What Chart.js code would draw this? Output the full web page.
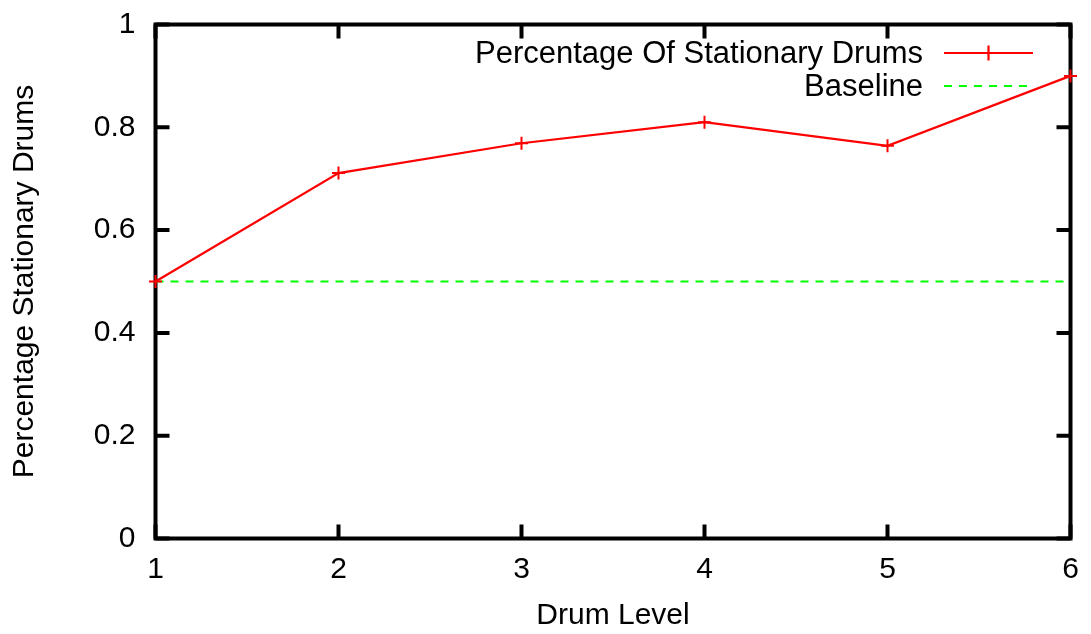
<!DOCTYPE html>
<html>
<head>
<meta charset="utf-8">
<script src="https://cdn.jsdelivr.net/npm/chart.js@4/dist/chart.umd.min.js"></script>
<style>
  html, body { margin: 0; padding: 0; background: #ffffff; }
  #wrap { width: 1091px; height: 634px; position: relative; }
</style>
</head>
<body>
<div id="wrap"><canvas id="c" width="1091" height="634"></canvas></div>
<script>
// Drum levels and the share of drums that stayed stationary at each level
const drumLevels = [1, 2, 3, 4, 5, 6];
const stationaryShare = [0.50, 0.711, 0.769, 0.810, 0.764, 0.900];
// Chance level drawn as a flat reference line across all levels
const baselineLevels = [1, 6];
const baselineValues = [0.5, 0.5];
const yTickValues = [0, 0.2, 0.4, 0.6, 0.8, 1];

const seriesLabel = 'Percentage Of Stationary Drums';
const baselineLabel = 'Baseline';

const FONT = '"Liberation Sans", Arial, Helvetica, sans-serif';
const FONT_SIZE = 30;

// Gnuplot-style border box with inward ticks on all four sides
const frameAndTicks = {
  id: 'frameAndTicks',
  beforeDatasetsDraw(chart) {
    const { ctx, chartArea: a, scales } = chart;
    const tick = 14;
    ctx.save();
    ctx.strokeStyle = '#000000';
    ctx.lineWidth = 4;
    ctx.lineCap = 'butt';
    ctx.beginPath();
    drumLevels.forEach(v => {
      const x = scales.x.getPixelForValue(v);
      ctx.moveTo(x, a.bottom); ctx.lineTo(x, a.bottom - tick);
      ctx.moveTo(x, a.top); ctx.lineTo(x, a.top + tick);
    });
    yTickValues.forEach(v => {
      const y = scales.y.getPixelForValue(v);
      ctx.moveTo(a.left, y); ctx.lineTo(a.left + tick, y);
      ctx.moveTo(a.right, y); ctx.lineTo(a.right - tick, y);
    });
    ctx.stroke();
    ctx.lineJoin = 'miter';
    ctx.strokeRect(a.left, a.top, a.right - a.left, a.bottom - a.top);
    ctx.restore();
  }
};

// Key in the upper right: label text, then a sample of the line style
const keyInside = {
  id: 'keyInside',
  afterDatasetsDraw(chart) {
    const { ctx } = chart;
    const textRight = 923, sampleL = 944, sampleR = 1033;
    const rows = [53, 86];
    ctx.save();
    ctx.font = '31px ' + FONT;
    ctx.textAlign = 'right';
    ctx.textBaseline = 'middle';
    chart.data.datasets.forEach((ds, i) => {
      const y = rows[i];
      ctx.fillStyle = '#000000';
      ctx.fillText(ds.label, textRight, y + 1);
      ctx.strokeStyle = ds.borderColor;
      ctx.lineWidth = ds.borderWidth;
      ctx.setLineDash(ds.borderDash || []);
      ctx.beginPath();
      ctx.moveTo(sampleL, y); ctx.lineTo(sampleR, y);
      ctx.stroke();
      ctx.setLineDash([]);
      if (ds.pointStyle === 'cross') {
        const cx = (sampleL + sampleR) / 2, r = ds.pointRadius;
        ctx.beginPath();
        ctx.moveTo(cx - r, y); ctx.lineTo(cx + r, y);
        ctx.moveTo(cx, y - r - 1); ctx.lineTo(cx, y + r + 1);
        ctx.stroke();
      }
    });
    ctx.restore();
  }
};

new Chart(document.getElementById('c'), {
  type: 'line',
  data: {
    datasets: [
      {
        label: seriesLabel,
        data: drumLevels.map((x, i) => ({ x, y: stationaryShare[i] })),
        borderColor: '#ff0000',
        backgroundColor: '#ff0000',
        borderWidth: 2.2,
        pointStyle: 'cross',
        pointRadius: 6.5,
        pointBorderWidth: 2,
        pointBorderColor: '#ff0000',
        tension: 0,
        fill: false,
        clip: false
      },
      {
        label: baselineLabel,
        data: baselineLevels.map((x, i) => ({ x, y: baselineValues[i] })),
        borderColor: '#00ff00',
        backgroundColor: '#00ff00',
        borderWidth: 2.2,
        borderDash: [8, 7],
        pointRadius: 0,
        tension: 0,
        fill: false,
        clip: false
      }
    ]
  },
  plugins: [frameAndTicks, keyInside],
  options: {
    responsive: false,
    animation: false,
    devicePixelRatio: 1,
    layout: { padding: { left: 0, right: 20.5, top: 24.5, bottom: 0 } },
    plugins: {
      legend: { display: false },
      tooltip: { enabled: false }
    },
    scales: {
      x: {
        type: 'linear',
        min: 1, max: 6,
        afterFit(s) { s.height = 95.5; s.paddingLeft = 0; s.paddingRight = 0; },
        afterBuildTicks(s) { s.ticks = drumLevels.map(v => ({ value: v })); },
        grid: { display: false, drawTicks: false },
        border: { display: false },
        ticks: {
          color: '#000000',
          font: { family: FONT, size: FONT_SIZE },
          padding: 13,
          maxRotation: 0,
          callback: v => String(v)
        },
        title: {
          display: true,
          text: 'Drum Level',
          color: '#000000',
          font: { family: FONT, size: FONT_SIZE },
          padding: { top: 0, bottom: 0 }
        }
      },
      y: {
        type: 'linear',
        min: 0, max: 1,
        afterFit(s) { s.width = 155.5; s.paddingTop = 0; s.paddingBottom = 0; },
        afterBuildTicks(s) { s.ticks = yTickValues.map(v => ({ value: v })); },
        grid: { display: false, drawTicks: false },
        border: { display: false },
        ticks: {
          color: '#000000',
          font: { family: FONT, size: FONT_SIZE },
          padding: 20,
          callback: v => String(v)
        },
        title: {
          display: true,
          text: 'Percentage Stationary Drums',
          color: '#000000',
          font: { family: FONT, size: FONT_SIZE },
          padding: { top: 7, bottom: 0 }
        }
      }
    }
  }
});
</script>
</body>
</html>
